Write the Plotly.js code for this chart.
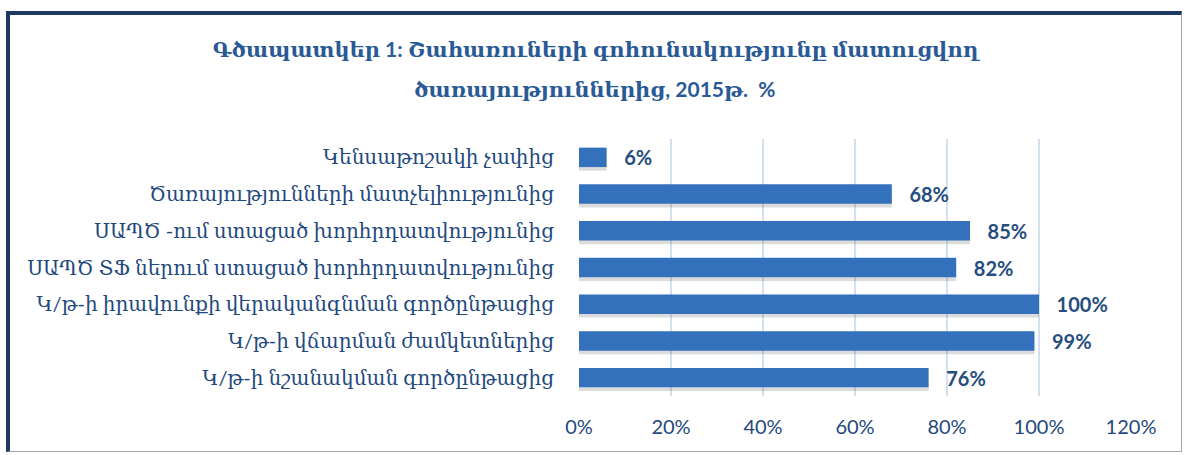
<!DOCTYPE html>
<html>
<head>
<meta charset="utf-8">
<script src="https://cdn.plot.ly/plotly-3.0.1.min.js"></script>
<style>
  body { margin: 0; background: #ffffff; }
  #frame {
    position: absolute; left: 6px; top: 11px;
    width: 1176px; height: 441px; box-sizing: border-box;
    border-top: 4px solid #1f3864; border-left: 4px solid #1f3864;
    border-right: 1px solid #a6a6a6; border-bottom: 1px solid #a6a6a6;
  }
  #chart { width: 1171px; height: 436px; }
</style>
</head>
<body>
<div id="frame"><div id="chart"></div></div>
<script>
// Satisfaction shares by service aspect, 2015 (%)
const categories = [
    'Կենսաթոշակի չափից',
    'Ծառայությունների մատչելիությունից',
    'ՍԱՊԾ -ում ստացած խորհրդատվությունից',
    'ՍԱՊԾ ՏՖ ներում ստացած խորհրդատվությունից',
    'Կ/թ-ի իրավունքի վերականգնման գործընթացից',
    'Կ/թ-ի վճարման ժամկետներից',
    'Կ/թ-ի նշանակման գործընթացից'
];
const values = [6, 68, 85, 82, 100, 99, 76];
const tickVals = [0, 20, 40, 60, 80, 100, 120];
const tickText = ['0%', '20%', '40%', '60%', '80%', '100%', '120%'];

const titleLine1 = 'Գծապատկեր 1: Շահառուների գոհունակությունը մատուցվող';
const titleLine2 = 'ծառայություններից, 2015թ.  %';

const navy = '#1f497d';
const armFont = 'Lato, "DejaVu Serif", serif';

// plot area in px inside the chart div
const plotTop = 124, plotBottom = 381, plotLeft = 569, plotWidth = 552;
const barWidth = 0.53;

// soft drop shadow under each bar
const shadow = {
    type: 'bar',
    orientation: 'h',
    x: values,
    y: categories,
    width: barWidth,
    offset: -barWidth / 2 + 0.1,
    marker: { color: 'rgba(60,60,60,0.18)', line: { width: 0 } },
    hoverinfo: 'skip'
};

const trace = {
    type: 'bar',
    orientation: 'h',
    x: values,
    y: categories,
    width: barWidth,
    marker: { color: '#3471bd', line: { width: 0 } },
    text: values.map(v => '   ' + v + '%'),
    textposition: 'outside',
    constraintext: 'none',
    cliponaxis: false,
    textfont: { family: 'Lato, sans-serif', size: 20, color: '#264d7e', weight: 'bold' },
    hoverinfo: 'skip'
};

const layout = {
    width: 1171,
    height: 436,
    paper_bgcolor: '#ffffff',
    plot_bgcolor: '#ffffff',
    showlegend: false,
    barmode: 'overlay',
    margin: { l: plotLeft, r: 50, t: plotTop, b: 436 - plotBottom },
    title: {
        text: titleLine1,
        font: { family: armFont, size: 21, color: '#2a5a96', weight: 'bold' },
        x: 0.5, xanchor: 'center',
        y: 1 - 35 / 436, yanchor: 'middle'
    },
    annotations: [{
        text: titleLine2,
        xref: 'paper', yref: 'paper',
        x: (585 - plotLeft) / plotWidth, xanchor: 'center',
        y: (plotBottom - 73) / (plotBottom - plotTop), yanchor: 'middle',
        showarrow: false,
        font: { family: armFont, size: 21, color: '#2a5a96', weight: 'bold' }
    }],
    xaxis: {
        range: [0, 120],
        tickvals: tickVals,
        ticktext: tickText,
        showgrid: true,
        gridcolor: '#d3e0f0',
        gridwidth: 1.5,
        zeroline: false,
        showline: false,
        ticks: '',
        ticklabelstandoff: 17,
        tickfont: { family: 'Lato, sans-serif', size: 20, color: navy }
    },
    yaxis: {
        autorange: 'reversed',
        showgrid: false,
        zeroline: false,
        showline: false,
        ticks: '',
        ticklabelstandoff: 24,
        tickfont: { family: armFont, size: 20, color: navy }
    }
};

Plotly.newPlot('chart', [shadow, trace], layout, { displayModeBar: false, staticPlot: true });
</script>
</body>
</html>
